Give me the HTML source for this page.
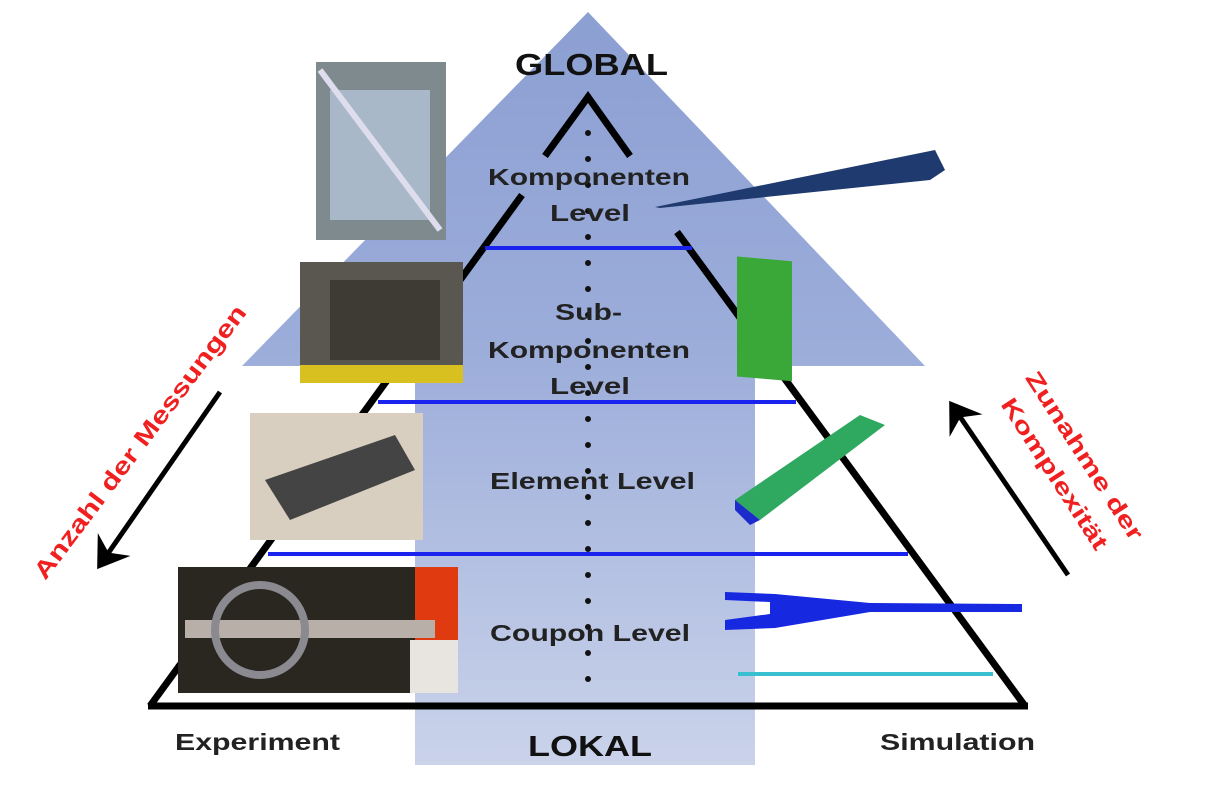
<!DOCTYPE html>
<html><head><meta charset="utf-8"><style>
html,body{margin:0;padding:0;background:#fff;}
svg{display:block}
text{font-family:"Liberation Sans",Arial,sans-serif;font-weight:bold}
</style></head><body>
<svg width="1231" height="795" viewBox="0 0 1231 795" xmlns="http://www.w3.org/2000/svg">
<defs>
<linearGradient id="g" x1="0" y1="0" x2="0" y2="1">
<stop offset="0" stop-color="#8c9fd2"/><stop offset="0.45" stop-color="#9cadda"/><stop offset="1" stop-color="#cad3ea"/>
</linearGradient>
<marker id="ah" markerWidth="8" markerHeight="8" refX="5" refY="4" orient="auto" markerUnits="strokeWidth">
<path d="M0,0 L6,4 L0,8 L2,4 Z" fill="#000"/></marker>
</defs>
<polygon points="588,12 925,366 755,366 755,765 415,765 415,366 242,366" fill="url(#g)"/>
<g stroke="#000" stroke-width="7" fill="none" stroke-linecap="butt">
<polyline points="545,156 588,97 630,156"/>
<line x1="522" y1="195" x2="150" y2="706"/>
<line x1="677" y1="232" x2="1025" y2="706"/>
<line x1="148" y1="706" x2="1028" y2="706"/>
</g>
<g stroke="#1a22ee" stroke-width="4">
<line x1="485" y1="248" x2="692" y2="248"/>
<line x1="378" y1="402" x2="796" y2="402"/>
<line x1="268" y1="554" x2="908" y2="554"/>
</g>
<line x1="588" y1="133" x2="588" y2="704" stroke="#111" stroke-width="6" stroke-linecap="round" stroke-dasharray="0 26"/>
<rect x="316" y="62" width="130" height="178" fill="#7f8a8e"/>
<rect x="330" y="90" width="100" height="130" fill="#a9b8c8"/>
<line x1="320" y1="70" x2="440" y2="230" stroke="#dde" stroke-width="6"/>
<rect x="300" y="262" width="163" height="121" fill="#5a5650"/>
<rect x="330" y="280" width="110" height="80" fill="#3e3a34"/>
<rect x="300" y="365" width="163" height="18" fill="#d8c020"/>
<rect x="250" y="413" width="173" height="127" fill="#d9cfc0"/>
<polygon points="265,480 395,435 415,470 290,520" fill="#444"/>
<rect x="178" y="567" width="280" height="126" fill="#2a2620"/>
<rect x="415" y="567" width="43" height="80" fill="#e03a10"/>
<rect x="410" y="640" width="48" height="53" fill="#e8e4e0"/>
<rect x="185" y="620" width="250" height="18" fill="#b8b0a8"/>
<circle cx="260" cy="630" r="45" fill="none" stroke="#8a8a90" stroke-width="8"/>
<polygon points="655,207 935,150 945,170 930,180 660,208" fill="#1e3a6e"/>
<rect x="737" y="257" width="55" height="120" fill="#3aa838" transform="skewY(5) translate(0,-65)"/>
<polygon points="735,500 860,415 885,425 760,520" fill="#2fa860"/>
<polygon points="735,500 760,520 750,525 735,510" fill="#1c2ccc"/>
<polygon points="725,592 775,594 870,603 1022,604 1022,612 870,612 775,628 725,630 725,620 770,614 770,602 725,600" fill="#1628e0"/>
<rect x="738" y="672" width="255" height="4" fill="#38c0d0"/>
<g fill="#222" font-size="23" lengthAdjust="spacingAndGlyphs">
<text x="515" y="75" font-size="31" textLength="153" lengthAdjust="spacingAndGlyphs" fill="#111">GLOBAL</text>
<text x="488" y="185" textLength="202" lengthAdjust="spacingAndGlyphs">Komponenten</text>
<text x="550" y="221" textLength="80" lengthAdjust="spacingAndGlyphs">Level</text>
<text x="555" y="320" textLength="67" lengthAdjust="spacingAndGlyphs">Sub-</text>
<text x="488" y="358" textLength="202" lengthAdjust="spacingAndGlyphs">Komponenten</text>
<text x="550" y="394" textLength="80" lengthAdjust="spacingAndGlyphs">Level</text>
<text x="490" y="489" textLength="205" lengthAdjust="spacingAndGlyphs">Element Level</text>
<text x="490" y="641" textLength="200" lengthAdjust="spacingAndGlyphs">Coupon Level</text>
<text x="528" y="756" font-size="29" textLength="124" lengthAdjust="spacingAndGlyphs" fill="#111">LOKAL</text>
<text x="175" y="750" textLength="165" lengthAdjust="spacingAndGlyphs">Experiment</text>
<text x="880" y="750" textLength="155" lengthAdjust="spacingAndGlyphs">Simulation</text>
</g>
<line x1="220" y1="392" x2="100" y2="565" stroke="#000" stroke-width="5" marker-end="url(#ah)"/>
<line x1="1068" y1="575" x2="952" y2="405" stroke="#000" stroke-width="5" marker-end="url(#ah)"/>
<text transform="translate(140,442) rotate(-53)" x="-168" y="8" font-size="24" fill="#f02020" textLength="336" lengthAdjust="spacingAndGlyphs">Anzahl der Messungen</text>
<text transform="translate(1078,460) rotate(57)" x="-98" y="0" font-size="23" fill="#f02020" textLength="196" lengthAdjust="spacingAndGlyphs">Zunahme der</text>
<text transform="translate(1048,478) rotate(57)" x="-88" y="0" font-size="23" fill="#f02020" textLength="176" lengthAdjust="spacingAndGlyphs">Komplexität</text>
</svg>
</body></html>
